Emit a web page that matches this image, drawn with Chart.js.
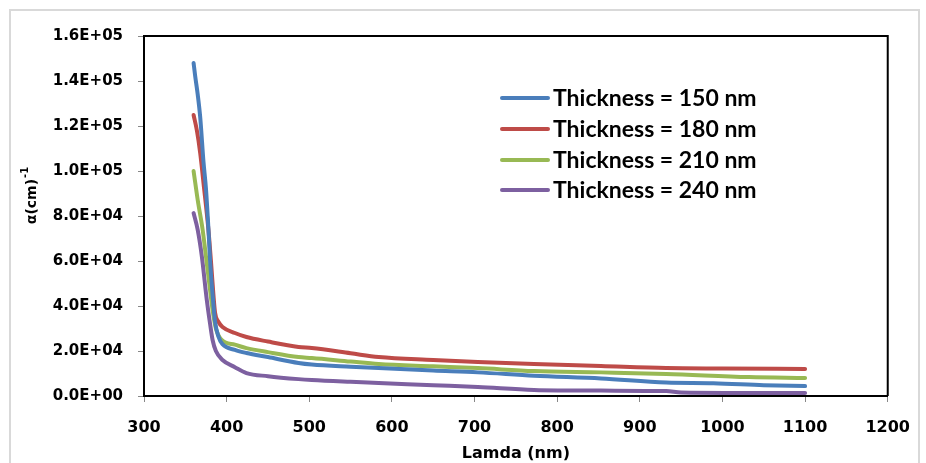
<!DOCTYPE html>
<html>
<head>
<meta charset="utf-8">
<script src="https://cdn.jsdelivr.net/npm/chart.js@4.4.1/dist/chart.umd.min.js"></script>
<style>
  html, body { margin: 0; padding: 0; background: #fff; }
  #wrap { position: relative; width: 926px; height: 463px; overflow: hidden; }
  #frame { position: absolute; left: 9px; top: 9px; width: 907px; height: 480px;
           border: 2px solid #d9d9d9; pointer-events: none; }
</style>
</head>
<body>
<div id="wrap">
  <canvas id="chart" width="926" height="463"></canvas>
  <div id="frame"></div>
</div>
<script>
/***** DATA *****/
const seriesLabels = ["Thickness = 150 nm", "Thickness = 180 nm", "Thickness = 210 nm", "Thickness = 240 nm"];
const seriesColors = ["#4A7EBB", "#BE4B48", "#98B954", "#7D60A0"];

// wavelength (nm) / absorption coefficient (cm^-1)
const lam150   = [360, 362, 365, 368, 372, 375, 378, 380, 383, 386, 390, 395, 410, 424, 450, 487, 503, 550, 584, 650, 704, 772, 853, 932, 989, 1050, 1100];
const alpha150 = [148000, 142000, 134000, 124000, 104000, 92000, 74000, 60000, 45000, 33000, 26500, 23000, 20500, 19100, 17300, 14700, 14000, 13000, 12400, 11300, 10500, 9000, 7800, 6000, 5700, 4800, 4400];

const lam180   = [360, 364, 368, 372, 378, 381, 384, 386, 390, 395, 410, 424, 450, 487, 503, 550, 584, 650, 704, 772, 853, 932, 1000, 1100];
const alpha180 = [124900, 118000, 108000, 94700, 73800, 60000, 45000, 37000, 33000, 30700, 28000, 26200, 24200, 21800, 21300, 19000, 17300, 16000, 15100, 14200, 13300, 12400, 12200, 12000];

const lam210   = [360, 365, 371, 375, 379, 383, 387, 394, 410, 424, 450, 487, 503, 550, 584, 650, 704, 772, 853, 932, 1032, 1100];
const alpha210 = [100000, 87100, 73800, 62000, 50000, 38200, 30000, 24900, 22800, 21300, 19500, 17300, 16900, 15300, 14200, 13200, 12400, 11100, 10500, 9800, 8400, 8000];

const lam240   = [360, 365, 370, 376, 380, 383, 387, 395, 410, 424, 450, 487, 503, 550, 584, 650, 704, 772, 853, 932, 950, 1100];
const alpha240 = [81300, 73800, 62000, 42700, 32000, 24900, 20000, 16000, 12800, 10200, 8800, 7500, 7100, 6300, 5800, 4800, 4000, 2700, 2400, 2200, 1600, 1300];

const xTitle = "Lamda (nm)";
const yTitle = "α(cm)";
const yTitleSup = "-1";

/***** HELPERS *****/
const pts = (xs, ys) => xs.map((x, i) => ({ x, y: ys[i] }));

function sci(v){
  const [m, e] = Number(v).toExponential(1).split("e");
  return `${m}E${e[0]}${e.slice(1).padStart(2, "0")}`;
}

// top/right frame of plot area
const plotFrame = {
  id: "plotFrame",
  afterDatasetsDraw(chart){
    const { ctx, chartArea: a } = chart;
    ctx.save();
    ctx.strokeStyle = "#000";
    ctx.lineWidth = 2;
    ctx.beginPath();
    ctx.moveTo(a.left, a.top);
    ctx.lineTo(a.right, a.top);
    ctx.lineTo(a.right, a.bottom);
    ctx.stroke();
    ctx.restore();
  }
};

// legend inside the plot + rotated y title with superscript
const overlay = {
  id: "overlay",
  afterDraw(chart){
    const { ctx } = chart;
    ctx.save();
    // legend
    const x0 = 502, x1 = 548, tx = 553;
    const rows = [98, 129, 160, 190];
    ctx.font = "bold 23px Lato";
    ctx.textBaseline = "middle";
    chart.data.datasets.forEach((ds, i) => {
      ctx.strokeStyle = ds.borderColor;
      ctx.lineWidth = 4;
      ctx.lineCap = "round";
      ctx.beginPath();
      ctx.moveTo(x0, rows[i]);
      ctx.lineTo(x1, rows[i]);
      ctx.stroke();
      ctx.fillStyle = "#000";
      ctx.fillText(ds.label, tx, rows[i] + 1);
    });
    // y title
    ctx.translate(31, 196);
    ctx.rotate(-Math.PI / 2);
    ctx.font = "bold 14px 'DejaVu Sans'";
    const w1 = ctx.measureText(yTitle).width;
    ctx.font = "bold 10px 'DejaVu Sans'";
    const w2 = ctx.measureText(yTitleSup).width;
    const start = -(w1 + w2) / 2;
    ctx.fillStyle = "#000";
    ctx.textBaseline = "middle";
    ctx.textAlign = "left";
    ctx.font = "bold 14px 'DejaVu Sans'";
    ctx.fillText(yTitle, start, 1);
    ctx.font = "bold 10px 'DejaVu Sans'";
    ctx.fillText(yTitleSup, start + w1 + 1, -6);
    ctx.restore();
  }
};

/***** CHART *****/
const datasets = [
  pts(lam150, alpha150),
  pts(lam180, alpha180),
  pts(lam210, alpha210),
  pts(lam240, alpha240)
].map((data, i) => ({
  label: seriesLabels[i],
  data,
  borderColor: seriesColors[i],
  backgroundColor: seriesColors[i],
  borderWidth: 4,
  borderCapStyle: "round",
  pointRadius: 0,
  cubicInterpolationMode: "monotone",
  fill: false
}));

new Chart(document.getElementById("chart"), {
  type: "line",
  data: { datasets },
  options: {
    responsive: false,
    animation: false,
    layout: { padding: { top: 36, right: 32, left: 0, bottom: 0 } },
    plugins: { legend: { display: false }, tooltip: { enabled: false } },
    scales: {
      x: {
        type: "linear",
        min: 300, max: 1200,
        afterFit: (s) => { s.height = 67; },
        ticks: { stepSize: 100, padding: 16, color: "#000", callback: (v) => String(v), font: { family: "'DejaVu Sans'", size: 16, weight: "bold" }, maxRotation: 0 },
        grid: { drawOnChartArea: false, drawTicks: true, tickLength: 6, color: "#888" },
        border: { display: true, color: "#000", width: 2 },
        title: { display: true, text: xTitle, color: "#000", font: { family: "'DejaVu Sans'", size: 16, weight: "bold" }, padding: { top: 0, bottom: 0 } }
      },
      y: {
        min: 0, max: 160000,
        afterFit: (s) => { s.width = 144; },
        ticks: { stepSize: 20000, padding: 15, color: "#000", callback: (v) => sci(v), font: { family: "'DejaVu Sans'", size: 15, weight: "bold" } },
        grid: { drawOnChartArea: false, drawTicks: true, tickLength: 6, color: "#888" },
        border: { display: true, color: "#000", width: 2 }
      }
    }
  },
  plugins: [plotFrame, overlay]
});
</script>
</body>
</html>
